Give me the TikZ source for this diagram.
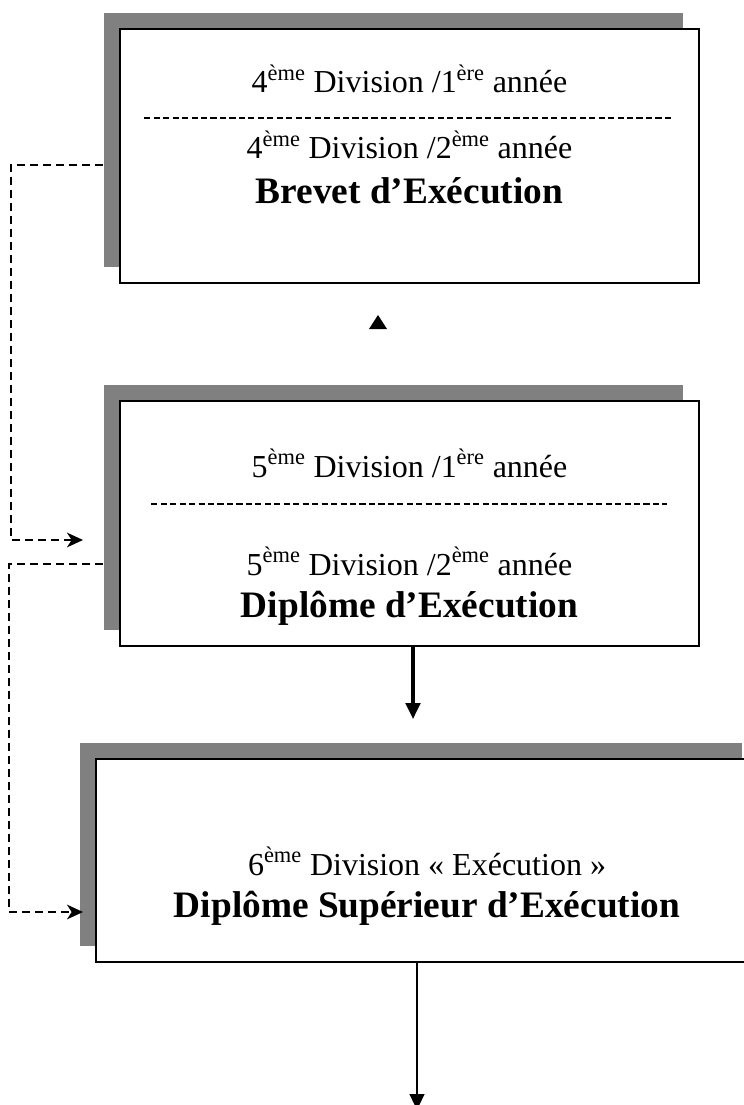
\documentclass[tikz,border=0pt]{standalone}
\usepackage{fontspec}
\setmainfont{Liberation Serif}
\definecolor{GrisOmbre}{HTML}{808080}
\usetikzlibrary{calc}
\usetikzlibrary{shadows}
\usetikzlibrary{arrows.meta}
\usetikzlibrary{positioning}
\newcommand{\eme}{\textsuperscript{ème}}
\newcommand{\ere}{\textsuperscript{ère}}

\begin{document}
\begin{tikzpicture}
	[x=0.75pt, y=-0.75pt,
	boite/.style = {shape=rectangle, draw=black, line width=1.2pt, fill=white, inner sep=0pt,
		drop shadow={shadow xshift=-12pt, shadow yshift=12pt, fill=GrisOmbre, opacity=1}},
	ligne/.style = {anchor=base, inner sep=0pt, font=\fontsize{24}{28}\selectfont},
	titre/.style = {anchor=base, inner sep=0pt, font=\fontsize{28}{32}\selectfont\bfseries},
	separe/.style = {line width=1.4pt, dash pattern=on 4.6pt off 2.5pt},
	liaison/.style = {line width=1.3pt, dash pattern=on 6pt off 3.75pt,
		-{Stealth[length=12pt, width=11pt, inset=3.5pt]}},
	fleche/.style = {line width=2.4pt, -{Triangle[length=12pt, width=11pt]}}]
	\useasboundingbox (0,0) rectangle (743,1105);
	% les trois cadres
	\node[boite, minimum width=434.25pt, minimum height=190.5pt] (B1) at (409.5,156) {};
	\node[boite, minimum width=434.25pt, minimum height=183.75pt] (B2) at (409.5,523.5) {};
	\node[boite, minimum width=496.5pt, minimum height=152.25pt] (B3) at (427,860.5) {};
	% textes
	\node[ligne] (T1a) at (409.5,93) {4\eme{} Division /1\ere{} année};
	\node[ligne] (T1b) at (409.5,159) {4\eme{} Division /2\eme{} année};
	\node[titre] (T1c) at (409.5,204) {Brevet d’Exécution};
	\node[ligne] (T2a) at (409.5,477) {5\eme{} Division /1\ere{} année};
	\node[ligne] (T2b) at (409.5,575) {5\eme{} Division /2\eme{} année};
	\node[titre] (T2c) at (409.5,617) {Diplôme d’Exécution};
	\node[ligne] (T3a) at (427,875) {6\eme{} Division « Exécution »};
	\node[titre] (T3b) at (427,917) {Diplôme Supérieur d’Exécution};
	\draw[separe] ($ (B1.west) + (25,-38) $) -- ($ (B1.east) + (-26,-38) $);
	\draw[separe] ($ (B2.west) + (32,-19.5) $) -- ($ (B2.east) + (-33,-19.5) $);
	% liaisons
	\coordinate (E1) at (83,540);
	\coordinate (E2) at (83,912);
	\coordinate (E3) at (413,719);
	\coordinate (E4) at (417,1110);
	\draw[liaison] ($ (B1.west) + (-16,9) $) -- ++(-92,0) |- (E1);
	\draw[liaison] ($ (B2.west) + (-16,40.5) $) -- ++(-94,0) |- (E2);
	\draw[fleche] ($ (B2.south) + (3.5,0) $) -- (E3);
	\draw[fleche, line width=1.6pt] ($ (B3.south) + (-10,0) $) -- (E4);
	\fill (369,329) -- (378,315) -- (387,329) -- cycle;
\end{tikzpicture}
\end{document}
